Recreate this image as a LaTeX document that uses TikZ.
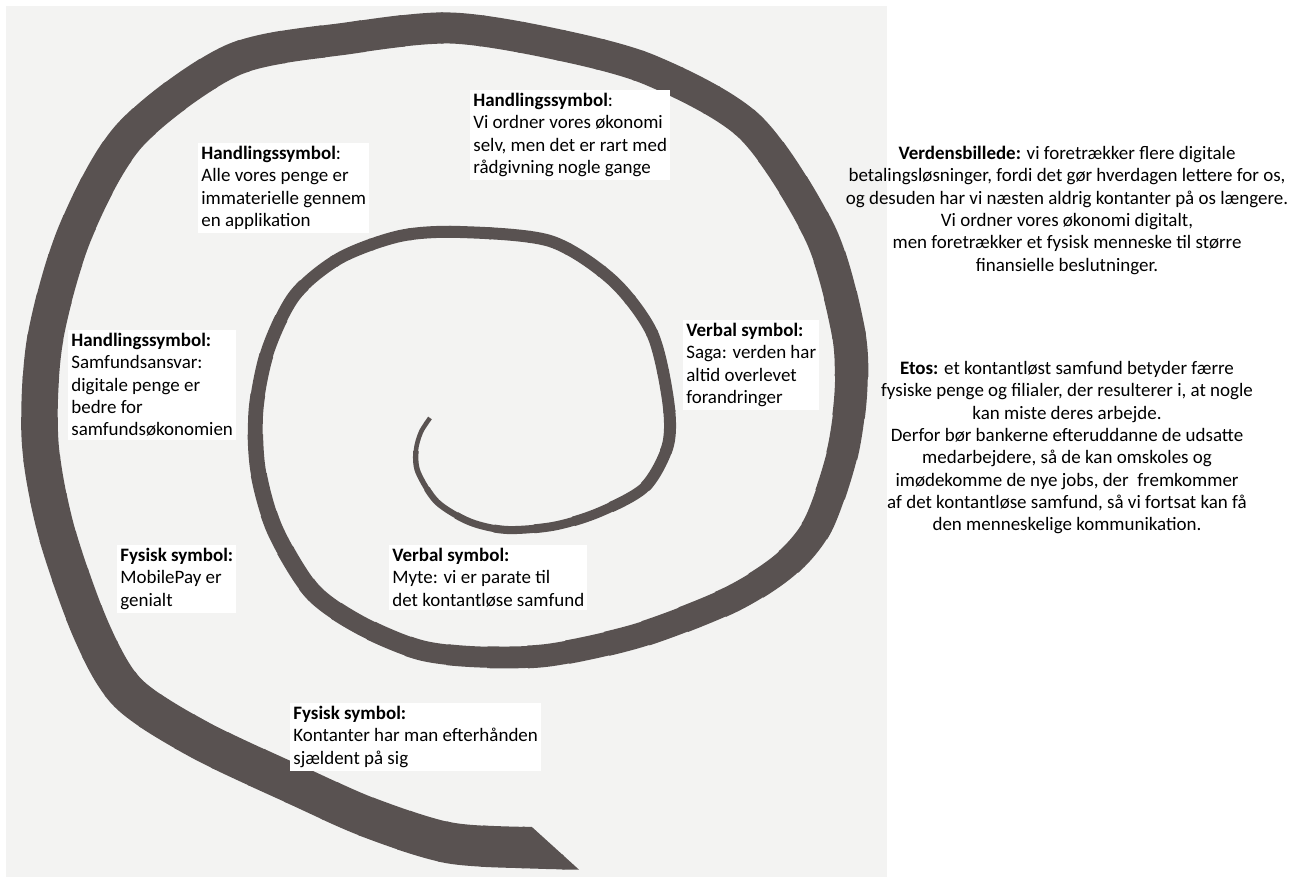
\documentclass[tikz,border=0pt]{standalone}
\usepackage{fontspec}
\setmainfont{Carlito}
\definecolor{spiralgray}{RGB}{89,82,81}
\definecolor{scangray}{RGB}{243,243,242}

\tikzset{
  txt/.style={anchor=north west, align=left, fill=white, inner sep=0.06cm,
    font=\fontsize{10.8}{12.7}\selectfont},
  sidetxt/.style={anchor=north, align=center, inner sep=0pt,
    font=\fontsize{10.8}{12.7}\selectfont},
  band/.style={draw=spiralgray, line cap=butt, line join=round},
}

% centre line of the spiral, from the tail inwards (pixel grid)
\def\spiralpath{plot[smooth] coordinates {
    (605,849) (540,848) (450,843) (370,818) (300,787) (200,740) (128,693)
    (91,630) (56,530) (40,440) (45,340) (75,233) (130,135) (233,60)
    (350,38) (450,28) (550,43) (650,70) (750,127) (820,233) (848,330)
    (851,390) (842,455) (818,525) (785,565) (730,600) (640,635) (550,655)
    (480,657) (420,650) (360,625) (312,591) (275,530) (258,470) (256,410)
    (268,350) (295,295) (340,258) (400,236) (460,232) (550,241) (612,280)
    (652,333) (668,400) (668,445) (645,487) (600,512) (555,526) (507,530)
    (470,522) (437,502) (418,472) (416,450) (421,432) (430,418)}}

\begin{document}
\begin{tikzpicture}[x=0.02cm, y=-0.02cm]
        \useasboundingbox (0,0) rectangle (1296,881);
        \fill[white] (0,0) rectangle (1296,881);
        \fill[scangray] (6,6) rectangle (887,877);

        % the spiral: short pieces of the path, thinner towards the middle
        \begin{scope}
            \clip (0,0) -- (900,0) -- (900,789) -- (490,789) -- (597,886) -- (0,886) -- cycle;
            \foreach \i in {0,...,99} {
                \pgfmathsetmacro\bandpos{40*\i+20}
                \pgfmathsetmacro\bandw{ifthenelse(\bandpos<880, 42-6*(\bandpos/880),
                    ifthenelse(\bandpos<1450, 36-5*((\bandpos-880)/570),
                    ifthenelse(\bandpos<2000, 31+3*(max(0,\bandpos-1770)/230),
                    ifthenelse(\bandpos<2580, 34-13*((\bandpos-2000)/580),
                    ifthenelse(\bandpos<3100, 21-9*((\bandpos-2580)/520),
                    ifthenelse(\bandpos<3600, 12, 12-8*((\bandpos-3600)/364)))))))}
                \pgfmathsetmacro\bandfrom{40*\i*0.0201}
                \pgfmathsetmacro\bandlen{ifthenelse(\i==99, 5, 0.854)}
                \draw[band, line width=\bandw*0.02cm, dash pattern=on 0pt off \bandfrom cm on \bandlen cm off 150cm] \spiralpath;
            }
        \end{scope}

        % labels inside the spiral
        \node[txt] (act1) at (470,90) {\textbf{Handlingssymbol}:\\Vi ordner vores økonomi\\selv, men det er rart med\\rådgivning nogle gange};
        \node[txt] (act2) at (198,143) {\textbf{Handlingssymbol}:\\Alle vores penge er\\immaterielle gennem\\en applikation};
        \node[txt] (act3) at (68,330) {\textbf{Handlingssymbol:}\\Samfundsansvar:\\digitale penge er\\bedre for\\samfundsøkonomien};
        \node[txt] (phys1) at (117,545) {\textbf{Fysisk symbol:}\\MobilePay er\\genialt};
        \node[txt] (verb1) at (389,545) {\textbf{Verbal symbol:}\\Myte: vi er parate til\\det kontantløse samfund};
        \node[txt] (phys2) at (290,703) {\textbf{Fysisk symbol:}\\Kontanter har man efterhånden\\sjældent på sig};
        \node[txt] (verb2) at (683,320) {\textbf{Verbal symbol:}\\Saga: verden har\\altid overlevet\\forandringer};

        % text to the right
        \node[sidetxt] (world) at (1067,146) {\textbf{Verdensbillede:} vi foretrækker flere digitale\\betalingsløsninger, fordi det gør hverdagen lettere for os,\\og desuden har vi næsten aldrig kontanter på os længere.\\Vi ordner vores økonomi digitalt,\\men foretrækker et fysisk menneske til større\\finansielle beslutninger.};
        \node[sidetxt] (ethos) at (1067,361) {\textbf{Etos:} et kontantløst samfund betyder færre\\fysiske penge og filialer, der resulterer i, at nogle\\kan miste deres arbejde.\\Derfor bør bankerne efteruddanne de udsatte\\medarbejdere, så de kan omskoles og\\imødekomme de nye jobs, der\ \ fremkommer\\af det kontantløse samfund, så vi fortsat kan få\\den menneskelige kommunikation.};
    \end{tikzpicture}
\end{document}
